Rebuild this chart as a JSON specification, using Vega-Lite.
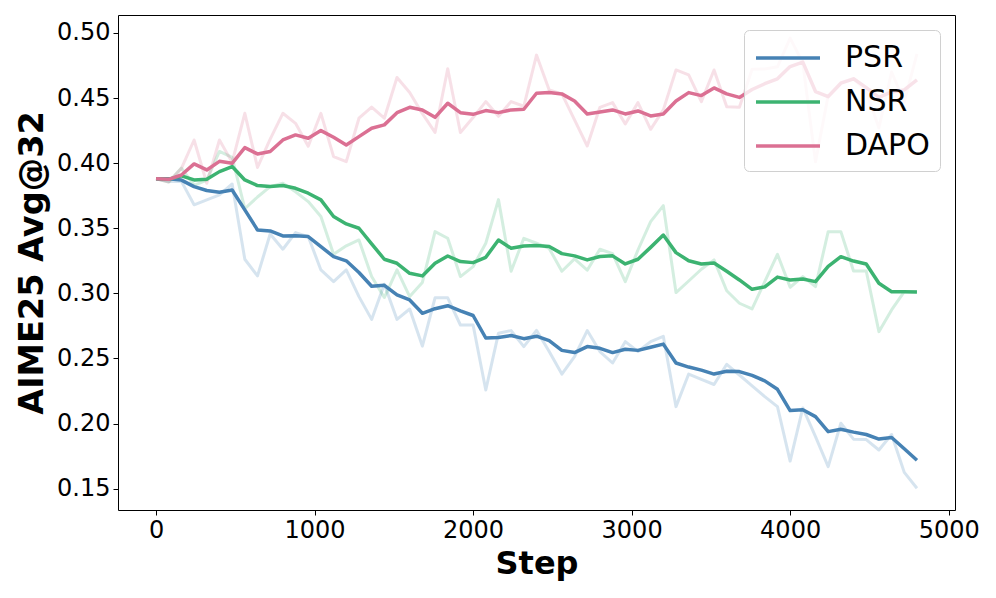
{
"$schema": "https://vega.github.io/schema/vega-lite/v6.json",
"width": 837, "height": 495,
"autosize": {"type": "none"},
"padding": {"left": 118, "top": 15, "right": 41, "bottom": 88},
"background": "white",
"config": {
  "font": "DejaVu Sans",
  "view": {"stroke": "black", "strokeWidth": 1},
  "axis": {"labelFontSize": 24, "labelColor": "black", "tickColor": "black", "tickSize": 5, "tickWidth": 1, "labelPadding": 3, "domain": false, "grid": false, "titleFontSize": 32, "titleFontWeight": "bold", "titleColor": "black", "labelFont": "DejaVu Sans", "titleFont": "DejaVu Sans"},
  "legend": {"orient": "top-right", "offset": 15, "symbolType": "M-2,0H2", "symbolStrokeWidth": 3.5, "symbolSize": 1024, "symbolOffset": 16, "symbolOpacity": 1, "labelFontSize": 30, "labelFont": "DejaVu Sans", "labelColor": "black", "padding": 10, "strokeColor": "#d0d0d0", "fillColor": "rgba(255,255,255,0.8)", "cornerRadius": 5, "rowPadding": 11, "labelOffset": 39}
},
"data": {"values": [
{"step":0,"method":"PSR","raw":0.388,"smooth":0.388},
{"step":80,"method":"PSR","raw":0.386,"smooth":0.388},
{"step":160,"method":"PSR","raw":0.386,"smooth":0.387},
{"step":240,"method":"PSR","raw":0.368,"smooth":0.382},
{"step":320,"method":"PSR","raw":0.3718,"smooth":0.379},
{"step":400,"method":"PSR","raw":0.3756,"smooth":0.3777},
{"step":480,"method":"PSR","raw":0.384,"smooth":0.3794},
{"step":560,"method":"PSR","raw":0.3262,"smooth":0.3641},
{"step":640,"method":"PSR","raw":0.3134,"smooth":0.3487},
{"step":720,"method":"PSR","raw":0.3456,"smooth":0.3479},
{"step":800,"method":"PSR","raw":0.3339,"smooth":0.3441},
{"step":880,"method":"PSR","raw":0.3467,"smooth":0.3443},
{"step":960,"method":"PSR","raw":0.3436,"smooth":0.3436},
{"step":1040,"method":"PSR","raw":0.318,"smooth":0.3359},
{"step":1120,"method":"PSR","raw":0.309,"smooth":0.3282},
{"step":1200,"method":"PSR","raw":0.318,"smooth":0.325},
{"step":1280,"method":"PSR","raw":0.2975,"smooth":0.316},
{"step":1360,"method":"PSR","raw":0.28,"smooth":0.3055},
{"step":1440,"method":"PSR","raw":0.307,"smooth":0.3062},
{"step":1520,"method":"PSR","raw":0.28,"smooth":0.2988},
{"step":1600,"method":"PSR","raw":0.288,"smooth":0.2949},
{"step":1680,"method":"PSR","raw":0.2595,"smooth":0.2847},
{"step":1760,"method":"PSR","raw":0.2966,"smooth":0.2882},
{"step":1840,"method":"PSR","raw":0.2966,"smooth":0.2905},
{"step":1920,"method":"PSR","raw":0.2757,"smooth":0.2866},
{"step":2000,"method":"PSR","raw":0.2757,"smooth":0.283},
{"step":2080,"method":"PSR","raw":0.2258,"smooth":0.2657},
{"step":2160,"method":"PSR","raw":0.2693,"smooth":0.2661},
{"step":2240,"method":"PSR","raw":0.2714,"smooth":0.2676},
{"step":2320,"method":"PSR","raw":0.2591,"smooth":0.2652},
{"step":2400,"method":"PSR","raw":0.2716,"smooth":0.2671},
{"step":2480,"method":"PSR","raw":0.2553,"smooth":0.2637},
{"step":2560,"method":"PSR","raw":0.238,"smooth":0.2562},
{"step":2640,"method":"PSR","raw":0.2514,"smooth":0.2545},
{"step":2720,"method":"PSR","raw":0.2714,"smooth":0.2591},
{"step":2800,"method":"PSR","raw":0.2553,"smooth":0.2578},
{"step":2880,"method":"PSR","raw":0.2465,"smooth":0.2545},
{"step":2960,"method":"PSR","raw":0.2629,"smooth":0.2571},
{"step":3040,"method":"PSR","raw":0.2553,"smooth":0.2562},
{"step":3120,"method":"PSR","raw":0.2629,"smooth":0.2586},
{"step":3200,"method":"PSR","raw":0.267,"smooth":0.261},
{"step":3280,"method":"PSR","raw":0.213,"smooth":0.2465},
{"step":3360,"method":"PSR","raw":0.238,"smooth":0.2434},
{"step":3440,"method":"PSR","raw":0.234,"smooth":0.241},
{"step":3520,"method":"PSR","raw":0.23,"smooth":0.238},
{"step":3600,"method":"PSR","raw":0.2455,"smooth":0.2402},
{"step":3680,"method":"PSR","raw":0.2373,"smooth":0.2399},
{"step":3760,"method":"PSR","raw":0.229,"smooth":0.237},
{"step":3840,"method":"PSR","raw":0.2207,"smooth":0.2328},
{"step":3920,"method":"PSR","raw":0.213,"smooth":0.2263},
{"step":4000,"method":"PSR","raw":0.1712,"smooth":0.21},
{"step":4080,"method":"PSR","raw":0.212,"smooth":0.2106},
{"step":4160,"method":"PSR","raw":0.19,"smooth":0.2053},
{"step":4240,"method":"PSR","raw":0.1669,"smooth":0.1938},
{"step":4320,"method":"PSR","raw":0.2002,"smooth":0.1956},
{"step":4400,"method":"PSR","raw":0.188,"smooth":0.1934},
{"step":4480,"method":"PSR","raw":0.1877,"smooth":0.1916},
{"step":4560,"method":"PSR","raw":0.1797,"smooth":0.1881},
{"step":4640,"method":"PSR","raw":0.1916,"smooth":0.1893},
{"step":4720,"method":"PSR","raw":0.1625,"smooth":0.1806},
{"step":4800,"method":"PSR","raw":0.1503,"smooth":0.1718},
{"step":0,"method":"NSR","raw":0.388,"smooth":0.388},
{"step":80,"method":"NSR","raw":0.3855,"smooth":0.3876},
{"step":160,"method":"NSR","raw":0.3962,"smooth":0.3902},
{"step":240,"method":"NSR","raw":0.383,"smooth":0.3871},
{"step":320,"method":"NSR","raw":0.387,"smooth":0.3876},
{"step":400,"method":"NSR","raw":0.409,"smooth":0.3935},
{"step":480,"method":"NSR","raw":0.4045,"smooth":0.3974},
{"step":560,"method":"NSR","raw":0.365,"smooth":0.3871},
{"step":640,"method":"NSR","raw":0.374,"smooth":0.3828},
{"step":720,"method":"NSR","raw":0.382,"smooth":0.382},
{"step":800,"method":"NSR","raw":0.3846,"smooth":0.3828},
{"step":880,"method":"NSR","raw":0.378,"smooth":0.3807},
{"step":960,"method":"NSR","raw":0.3705,"smooth":0.3769},
{"step":1040,"method":"NSR","raw":0.359,"smooth":0.3718},
{"step":1120,"method":"NSR","raw":0.33,"smooth":0.359},
{"step":1200,"method":"NSR","raw":0.3365,"smooth":0.3533},
{"step":1280,"method":"NSR","raw":0.341,"smooth":0.35},
{"step":1360,"method":"NSR","raw":0.3129,"smooth":0.338},
{"step":1440,"method":"NSR","raw":0.2968,"smooth":0.3262},
{"step":1520,"method":"NSR","raw":0.318,"smooth":0.3231},
{"step":1600,"method":"NSR","raw":0.2975,"smooth":0.3154},
{"step":1680,"method":"NSR","raw":0.3084,"smooth":0.3134},
{"step":1760,"method":"NSR","raw":0.3474,"smooth":0.3231},
{"step":1840,"method":"NSR","raw":0.3423,"smooth":0.3287},
{"step":1920,"method":"NSR","raw":0.3129,"smooth":0.3244},
{"step":2000,"method":"NSR","raw":0.3205,"smooth":0.3236},
{"step":2080,"method":"NSR","raw":0.3385,"smooth":0.3277},
{"step":2160,"method":"NSR","raw":0.372,"smooth":0.341},
{"step":2240,"method":"NSR","raw":0.317,"smooth":0.3346},
{"step":2320,"method":"NSR","raw":0.3423,"smooth":0.3364},
{"step":2400,"method":"NSR","raw":0.3385,"smooth":0.3367},
{"step":2480,"method":"NSR","raw":0.3345,"smooth":0.336},
{"step":2560,"method":"NSR","raw":0.317,"smooth":0.3305},
{"step":2640,"method":"NSR","raw":0.3265,"smooth":0.3288},
{"step":2720,"method":"NSR","raw":0.3178,"smooth":0.3257},
{"step":2800,"method":"NSR","raw":0.3339,"smooth":0.3283},
{"step":2880,"method":"NSR","raw":0.3305,"smooth":0.3288},
{"step":2960,"method":"NSR","raw":0.309,"smooth":0.3226},
{"step":3040,"method":"NSR","raw":0.3333,"smooth":0.3262},
{"step":3120,"method":"NSR","raw":0.3551,"smooth":0.3353},
{"step":3200,"method":"NSR","raw":0.3674,"smooth":0.3448},
{"step":3280,"method":"NSR","raw":0.3006,"smooth":0.3313},
{"step":3360,"method":"NSR","raw":0.3095,"smooth":0.325},
{"step":3440,"method":"NSR","raw":0.3185,"smooth":0.3226},
{"step":3520,"method":"NSR","raw":0.3257,"smooth":0.3233},
{"step":3600,"method":"NSR","raw":0.302,"smooth":0.317},
{"step":3680,"method":"NSR","raw":0.2924,"smooth":0.3103},
{"step":3760,"method":"NSR","raw":0.288,"smooth":0.3031},
{"step":3840,"method":"NSR","raw":0.309,"smooth":0.305},
{"step":3920,"method":"NSR","raw":0.33,"smooth":0.3125},
{"step":4000,"method":"NSR","raw":0.3047,"smooth":0.3103},
{"step":4080,"method":"NSR","raw":0.3129,"smooth":0.311},
{"step":4160,"method":"NSR","raw":0.3052,"smooth":0.309},
{"step":4240,"method":"NSR","raw":0.3474,"smooth":0.3207},
{"step":4320,"method":"NSR","raw":0.3474,"smooth":0.3282},
{"step":4400,"method":"NSR","raw":0.3172,"smooth":0.3248},
{"step":4480,"method":"NSR","raw":0.3172,"smooth":0.3225},
{"step":4560,"method":"NSR","raw":0.2706,"smooth":0.3077},
{"step":4640,"method":"NSR","raw":0.2873,"smooth":0.3013},
{"step":4720,"method":"NSR","raw":0.3013,"smooth":0.3012},
{"step":4800,"method":"NSR","raw":0.3013,"smooth":0.301},
{"step":0,"method":"DAPO","raw":0.388,"smooth":0.388},
{"step":80,"method":"DAPO","raw":0.3855,"smooth":0.3876},
{"step":160,"method":"DAPO","raw":0.396,"smooth":0.3909},
{"step":240,"method":"DAPO","raw":0.4178,"smooth":0.3994},
{"step":320,"method":"DAPO","raw":0.3846,"smooth":0.3948},
{"step":400,"method":"DAPO","raw":0.4178,"smooth":0.4014},
{"step":480,"method":"DAPO","raw":0.4006,"smooth":0.3999},
{"step":560,"method":"DAPO","raw":0.4383,"smooth":0.4119},
{"step":640,"method":"DAPO","raw":0.3967,"smooth":0.4071},
{"step":720,"method":"DAPO","raw":0.4185,"smooth":0.4089},
{"step":800,"method":"DAPO","raw":0.4383,"smooth":0.4178},
{"step":880,"method":"DAPO","raw":0.4306,"smooth":0.4217},
{"step":960,"method":"DAPO","raw":0.413,"smooth":0.4191},
{"step":1040,"method":"DAPO","raw":0.4383,"smooth":0.425},
{"step":1120,"method":"DAPO","raw":0.405,"smooth":0.4199},
{"step":1200,"method":"DAPO","raw":0.4012,"smooth":0.414},
{"step":1280,"method":"DAPO","raw":0.4345,"smooth":0.4204},
{"step":1360,"method":"DAPO","raw":0.443,"smooth":0.4268},
{"step":1440,"method":"DAPO","raw":0.4345,"smooth":0.4294},
{"step":1520,"method":"DAPO","raw":0.4658,"smooth":0.4388},
{"step":1600,"method":"DAPO","raw":0.4543,"smooth":0.4429},
{"step":1680,"method":"DAPO","raw":0.438,"smooth":0.4409},
{"step":1760,"method":"DAPO","raw":0.4236,"smooth":0.4352},
{"step":1840,"method":"DAPO","raw":0.4725,"smooth":0.446},
{"step":1920,"method":"DAPO","raw":0.4236,"smooth":0.4388},
{"step":2000,"method":"DAPO","raw":0.435,"smooth":0.4375},
{"step":2080,"method":"DAPO","raw":0.4473,"smooth":0.4404},
{"step":2160,"method":"DAPO","raw":0.436,"smooth":0.4388},
{"step":2240,"method":"DAPO","raw":0.4473,"smooth":0.4409},
{"step":2320,"method":"DAPO","raw":0.4437,"smooth":0.4414},
{"step":2400,"method":"DAPO","raw":0.483,"smooth":0.4537},
{"step":2480,"method":"DAPO","raw":0.4562,"smooth":0.4542},
{"step":2560,"method":"DAPO","raw":0.4532,"smooth":0.4532},
{"step":2640,"method":"DAPO","raw":0.4332,"smooth":0.4478},
{"step":2720,"method":"DAPO","raw":0.4132,"smooth":0.4378},
{"step":2800,"method":"DAPO","raw":0.4429,"smooth":0.4393},
{"step":2880,"method":"DAPO","raw":0.4465,"smooth":0.4409},
{"step":2960,"method":"DAPO","raw":0.4301,"smooth":0.4378},
{"step":3040,"method":"DAPO","raw":0.4465,"smooth":0.4401},
{"step":3120,"method":"DAPO","raw":0.426,"smooth":0.4363},
{"step":3200,"method":"DAPO","raw":0.4409,"smooth":0.4378},
{"step":3280,"method":"DAPO","raw":0.4716,"smooth":0.4478},
{"step":3360,"method":"DAPO","raw":0.4678,"smooth":0.4542},
{"step":3440,"method":"DAPO","raw":0.4473,"smooth":0.4519},
{"step":3520,"method":"DAPO","raw":0.4716,"smooth":0.4578},
{"step":3600,"method":"DAPO","raw":0.4434,"smooth":0.4532},
{"step":3680,"method":"DAPO","raw":0.4429,"smooth":0.4505},
{"step":3760,"method":"DAPO","raw":0.4721,"smooth":0.4566},
{"step":3840,"method":"DAPO","raw":0.4724,"smooth":0.461},
{"step":3920,"method":"DAPO","raw":0.474,"smooth":0.4648},
{"step":4000,"method":"DAPO","raw":0.496,"smooth":0.4742},
{"step":4080,"method":"DAPO","raw":0.477,"smooth":0.4776},
{"step":4160,"method":"DAPO","raw":0.401,"smooth":0.455},
{"step":4240,"method":"DAPO","raw":0.452,"smooth":0.4511},
{"step":4320,"method":"DAPO","raw":0.462,"smooth":0.4614},
{"step":4400,"method":"DAPO","raw":0.465,"smooth":0.4648},
{"step":4480,"method":"DAPO","raw":0.455,"smooth":0.458},
{"step":4560,"method":"DAPO","raw":0.427,"smooth":0.4505},
{"step":4640,"method":"DAPO","raw":0.47,"smooth":0.4547},
{"step":4720,"method":"DAPO","raw":0.447,"smooth":0.4562},
{"step":4800,"method":"DAPO","raw":0.484,"smooth":0.4639}
]},
"encoding": {
  "x": {"field": "step", "type": "quantitative", "title": "Step",
        "scale": {"domain": [-240, 5040], "nice": false, "zero": false},
        "axis": {"values": [0, 1000, 2000, 3000, 4000, 5000], "format": "d", "labelFlush": false, "titlePadding": 6}},
  "color": {"field": "method", "type": "nominal", "title": null,
            "scale": {"domain": ["PSR", "NSR", "DAPO"], "range": ["#4682b4", "#3cb371", "#db7093"]}}
},
"layer": [
  {"mark": {"type": "line", "strokeWidth": 3, "opacity": 0.22, "strokeJoin": "round"},
   "encoding": {"y": {"field": "raw", "type": "quantitative", "title": "AIME25 Avg@32",
        "scale": {"domain": [0.1336, 0.5138], "nice": false, "zero": false},
        "axis": {"values": [0.15, 0.2, 0.25, 0.3, 0.35, 0.4, 0.45, 0.5], "format": ".2f", "titlePadding": 7, "titleFontSize": 33.5}}}},
  {"mark": {"type": "line", "strokeWidth": 3.5, "strokeJoin": "round"},
   "encoding": {"y": {"field": "smooth", "type": "quantitative", "title": "AIME25 Avg@32"}}}
]
}
